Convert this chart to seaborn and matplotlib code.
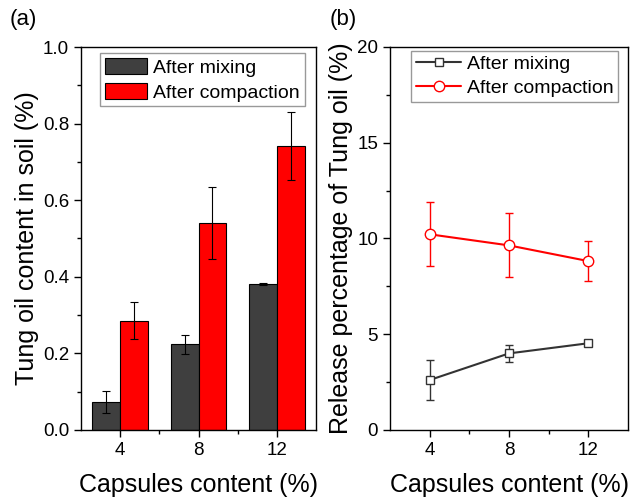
import numpy as np
import pandas as pd
import matplotlib
matplotlib.use('Agg')
import matplotlib.pyplot as plt
import seaborn as sns
from matplotlib.ticker import MultipleLocator, FixedLocator

# data
capsules = [4, 8, 12]
stages = ['After mixing', 'After compaction']

oil_mixing = [0.074, 0.224, 0.381]
oil_mixing_err = [0.029, 0.025, 0.002]
oil_compaction = [0.285, 0.540, 0.742]
oil_compaction_err = [0.048, 0.094, 0.089]

rel_mixing = [2.61, 4.00, 4.53]
rel_mixing_err = [1.05, 0.43, 0.10]
rel_compaction = [10.22, 9.64, 8.82]
rel_compaction_err = [1.68, 1.67, 1.05]

dark = '#3f3f3f'
red = '#ff0000'

sns.set_style('ticks')
plt.rcParams['font.family'] = ['Liberation Sans', 'DejaVu Sans']
plt.rcParams['text.color'] = 'black'
plt.rcParams['axes.labelcolor'] = 'black'
plt.rcParams['xtick.color'] = 'black'
plt.rcParams['ytick.color'] = 'black'
plt.rcParams['axes.edgecolor'] = 'black'

fig = plt.figure(figsize=(6.3, 5), dpi=100)
ax1 = fig.add_axes([81/630, 70/500, 235/630, 383/500])
ax2 = fig.add_axes([390/630, 70/500, 238/630, 383/500])

# (a) bar chart
df = pd.DataFrame({
    'capsule': [str(c) for c in capsules] * 2,
    'oil': oil_mixing + oil_compaction,
    'err': oil_mixing_err + oil_compaction_err,
    'stage': [stages[0]] * 3 + [stages[1]] * 3,
})
sns.barplot(data=df, x='capsule', y='oil', hue='stage', palette=[dark, red],
            width=0.71, gap=0, edgecolor='black', linewidth=0.8,
            errorbar=None, saturation=1, ax=ax1)
errs = [oil_mixing_err, oil_compaction_err]
for cont, e in zip(ax1.containers, errs):
    xs = [b.get_x() + b.get_width() / 2 for b in cont]
    ys = [b.get_height() for b in cont]
    ax1.errorbar(xs, ys, yerr=e, fmt='none', ecolor='black', elinewidth=0.8,
                 capsize=3, capthick=0.8)
ax1.set_xlim(-0.5, 2.5)
ax1.set_ylim(0, 1.0)
ax1.yaxis.set_minor_locator(MultipleLocator(0.1))
ax1.set_xticks([0.5, 1.5], minor=True)
ax1.set_yticks(np.arange(0, 1.01, 0.2))
ax1.set_yticklabels(['%.1f' % v for v in np.arange(0, 1.01, 0.2)])
ax1.set_xlabel('Capsules content (%)', fontsize=18, labelpad=10)
ax1.set_ylabel('Tung oil content in soil (%)', fontsize=18, labelpad=3)
h, l = ax1.get_legend_handles_labels()
ax1.legend(h, l, loc='upper left', bbox_to_anchor=(0.08, 0.985), borderaxespad=0,
           fontsize=14, frameon=True, fancybox=False, edgecolor='#999999',
           framealpha=1, handlelength=2.2, handleheight=0.95, handletextpad=0.3,
           labelspacing=0.3, borderpad=0.25)

# (b) line chart
sns.lineplot(x=capsules, y=rel_mixing, color='#333333', marker='s', markersize=6,
             markerfacecolor='white', markeredgecolor='#333333', markeredgewidth=1,
             linewidth=1.5, label=stages[0], ax=ax2)
sns.lineplot(x=capsules, y=rel_compaction, color=red, marker='o', markersize=7.5,
             markerfacecolor='white', markeredgecolor=red, markeredgewidth=1,
             linewidth=1.5, label=stages[1], ax=ax2)
ax2.errorbar(capsules, rel_mixing, yerr=rel_mixing_err, fmt='none', ecolor='#333333',
             elinewidth=1, capsize=3, capthick=1, zorder=1)
ax2.errorbar(capsules, rel_compaction, yerr=rel_compaction_err, fmt='none', ecolor=red,
             elinewidth=1, capsize=3, capthick=1, zorder=1)
ax2.set_xlim(2, 14)
ax2.set_ylim(0, 20)
ax2.set_xticks(capsules)
ax2.xaxis.set_minor_locator(FixedLocator([6, 10]))
ax2.yaxis.set_major_locator(MultipleLocator(5))
ax2.yaxis.set_minor_locator(MultipleLocator(2.5))
ax2.set_xlabel('Capsules content (%)', fontsize=18, labelpad=10)
ax2.set_ylabel('Release percentage of Tung oil (%)', fontsize=18, labelpad=3)
h, l = ax2.get_legend_handles_labels()
ax2.legend(h, l, loc='upper left', bbox_to_anchor=(0.09, 0.99), borderaxespad=0,
           fontsize=14, frameon=True, fancybox=False, edgecolor='#999999',
           framealpha=1, handlelength=2.3, handletextpad=0.3,
           labelspacing=0.3, borderpad=0.25)

for ax in (ax1, ax2):
    for s in ax.spines.values():
        s.set_visible(True)
        s.set_linewidth(1.0)
    ax.tick_params(which='major', direction='out', length=5, width=1, labelsize=13.5,
                   top=False, right=False)
    ax.tick_params(which='minor', direction='out', length=3, width=1,
                   top=False, right=False)

fig.text(10/630, 1 - 20/500, '(a)', fontsize=16, va='center', ha='left')
fig.text(330/630, 1 - 20/500, '(b)', fontsize=16, va='center', ha='left')

fig.savefig('out.png', dpi=100)
